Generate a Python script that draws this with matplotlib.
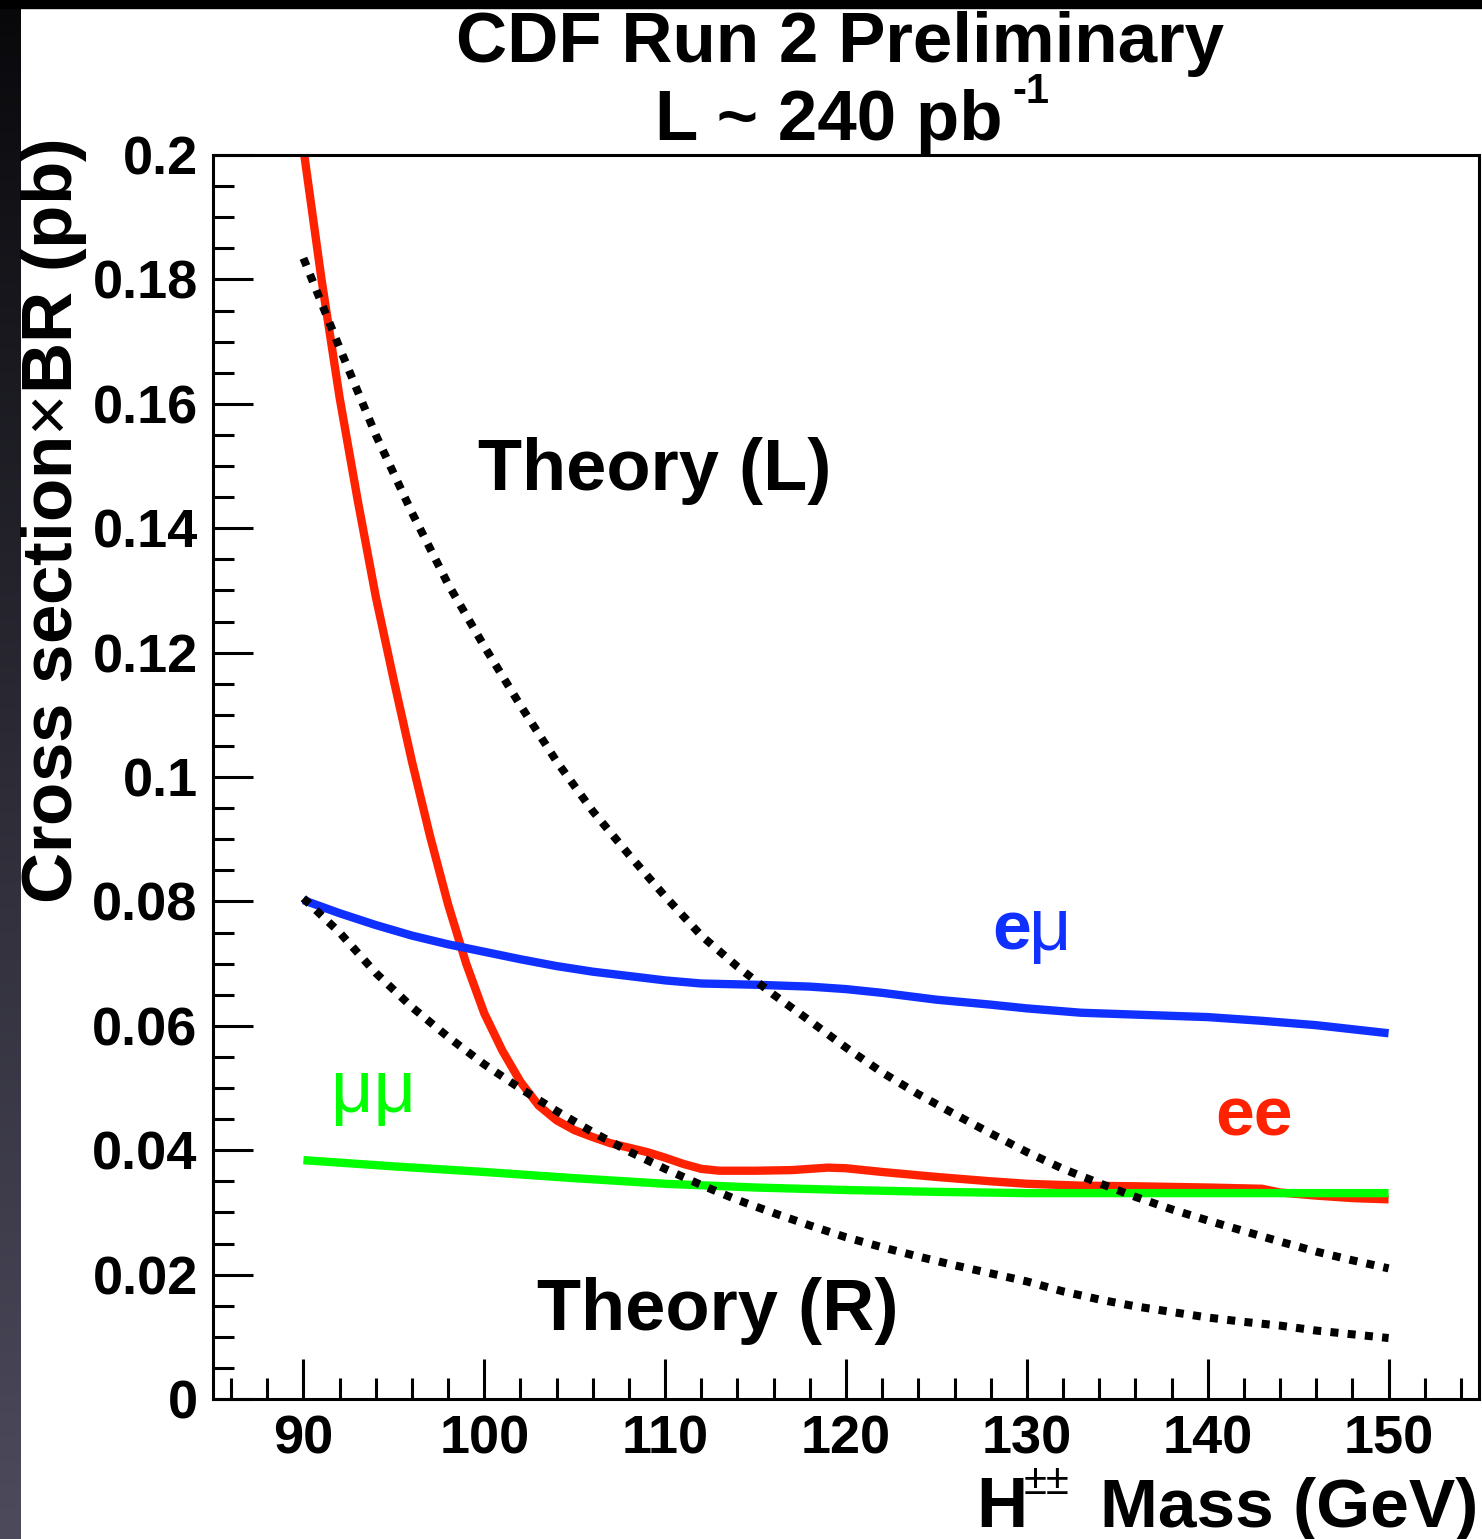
"""
CDF Run 2 doubly-charged Higgs limits: cross section x BR vs H++ mass.
"""

import numpy as np
import matplotlib
matplotlib.use('Agg')  # Headless mode
import matplotlib.pyplot as plt
from matplotlib.ticker import MultipleLocator, FuncFormatter
from matplotlib.patches import Rectangle

# Data
ee_mass = [90, 91, 92, 93, 94, 95, 96, 97, 98, 99, 100, 101, 102, 103, 104,
           105, 106, 107, 108, 109, 110, 111, 112, 113, 115, 117, 119, 120,
           122, 125, 128, 130, 133, 136, 140, 143, 144, 146, 148, 150]
ee_limit = [0.201, 0.180, 0.161, 0.1445, 0.129, 0.1155, 0.1025, 0.0905,
            0.0795, 0.0700, 0.0620, 0.0560, 0.0510, 0.0472, 0.0448, 0.0432,
            0.0421, 0.0411, 0.0404, 0.0397, 0.0388, 0.0378, 0.0370, 0.0367,
            0.0367, 0.0368, 0.0372, 0.0371, 0.0365, 0.0357, 0.0350, 0.0346,
            0.0343, 0.0342, 0.0340, 0.0338, 0.0332, 0.0327, 0.0323, 0.0321]

emu_mass = [90, 92, 94, 96, 98, 100, 102, 104, 106, 108, 110, 112, 115, 118,
            120, 122, 125, 128, 130, 133, 136, 140, 143, 146, 150]
emu_limit = [0.0802, 0.0781, 0.0762, 0.0745, 0.0731, 0.0719, 0.0707, 0.0696,
             0.0687, 0.0680, 0.0673, 0.0668, 0.0666, 0.0663, 0.0659, 0.0653,
             0.0642, 0.0634, 0.0628, 0.0621, 0.0618, 0.0614, 0.0608, 0.0601,
             0.0588]

mumu_mass = [90, 95, 100, 105, 110, 115, 120, 125, 130, 140, 150]
mumu_limit = [0.0384, 0.0374, 0.0365, 0.0355, 0.0346, 0.0340, 0.0336, 0.0333,
              0.0331, 0.0331, 0.0331]

theory_mass = [90, 92, 94, 96, 98, 100, 102, 104, 106, 108, 110, 112, 114,
               116, 118, 120, 122, 124, 126, 128, 130, 132, 134, 136, 138,
               140, 142, 144, 146, 148, 150]
theory_L = [0.1834, 0.169, 0.155, 0.1425, 0.131, 0.121, 0.1115, 0.1025,
            0.0945, 0.0875, 0.0808, 0.0745, 0.0695, 0.065, 0.0608, 0.0565,
            0.0525, 0.049, 0.0458, 0.0427, 0.0397, 0.037, 0.0347, 0.0325,
            0.0305, 0.0287, 0.027, 0.0253, 0.0237, 0.0223, 0.0210]
theory_R = [0.0805, 0.0750, 0.0685, 0.0630, 0.0582, 0.0538, 0.0499, 0.0463,
            0.0429, 0.0398, 0.0370, 0.0344, 0.0320, 0.0299, 0.0279, 0.0260,
            0.0244, 0.0229, 0.0215, 0.0202, 0.0189, 0.0173, 0.0160, 0.0149,
            0.0140, 0.0131, 0.0124, 0.0118, 0.0110, 0.0104, 0.0098]

RED = '#ff2200'
BLUE = '#1030ff'
GREEN = '#00ff00'

plt.rcParams['font.family'] = ['Liberation Sans', 'DejaVu Sans']
plt.rcParams['mathtext.fontset'] = 'custom'
plt.rcParams['mathtext.rm'] = 'Liberation Sans'
plt.rcParams['mathtext.bf'] = 'Liberation Sans:bold'

W, H = 1482, 1539
fig = plt.figure(figsize=(W / 100, H / 100), dpi=100)


def fx(px):
    return px / W


def fy(py):
    return 1 - py / H


# Dark slide border on the left + top band
strip = fig.add_axes([0, 0, fx(21), 1])
grad = np.linspace(0, 1, 256)[:, None]
top_col = np.array([0.03, 0.03, 0.04])
bot_col = np.array([0.30, 0.29, 0.36])
img = top_col + (bot_col - top_col) * grad[..., None] ** 0.9
strip.imshow(img, aspect='auto', extent=[0, 1, 0, 1], origin='upper')
strip.axis('off')
fig.patches.append(Rectangle((0, fy(8)), 1, 8 / H, transform=fig.transFigure,
                             color='black', zorder=5))

ax = fig.add_axes([fx(213), fy(1399), fx(1479) - fx(213), fy(155) - fy(1399)])

lw = 6
ax.plot(ee_mass, ee_limit, color=RED, lw=lw, solid_capstyle='butt',
        solid_joinstyle='round', zorder=2)
ax.plot(emu_mass, emu_limit, color=BLUE, lw=lw, solid_capstyle='butt', zorder=3)
ax.plot(mumu_mass, mumu_limit, color=GREEN, lw=lw, solid_capstyle='butt', zorder=4)
for th in (theory_L, theory_R):
    ax.plot(theory_mass, th, color='black', lw=5.8, linestyle=(0, (1, 1.15)),
            zorder=5)

ax.set_xlim(85, 155)
ax.set_ylim(0, 0.2)

# ROOT-like axes: ticks inside, only on bottom/left
for s in ax.spines.values():
    s.set_linewidth(2.2)
ax.xaxis.set_major_locator(MultipleLocator(10))
ax.xaxis.set_minor_locator(MultipleLocator(2))
ax.yaxis.set_major_locator(MultipleLocator(0.02))
ax.yaxis.set_minor_locator(MultipleLocator(0.005))
ax.yaxis.set_major_formatter(FuncFormatter(lambda v, p: f'{v:g}'))
ax.tick_params(which='both', direction='in', top=False, right=False, width=2.2)
ax.tick_params(which='major', length=29)
ax.tick_params(which='minor', length=15)
ax.tick_params(axis='x', which='major', pad=11, labelsize=39)
ax.tick_params(axis='y', which='major', pad=11, labelsize=39)
for lab in ax.get_xticklabels() + ax.get_yticklabels():
    lab.set_fontweight('bold')

# In-plot labels
ax.text(99.65, 0.1461, 'Theory (L)', fontsize=52, fontweight='bold',
        va='baseline')
ax.text(102.9, 0.0111, 'Theory (R)', fontsize=52, fontweight='bold',
        va='baseline')
ax.text(128.1, 0.0722, 'e', fontsize=50, fontweight='bold', color=BLUE,
        va='baseline')
ax.text(130.1, 0.0722, 'μ', fontsize=53, color=BLUE, va='baseline')
ax.text(140.4, 0.0423, 'ee', fontsize=50, fontweight='bold', color=RED,
        va='baseline')
ax.text(91.5, 0.0461, 'μμ', fontsize=53, color=GREEN, va='baseline')

# Title
fig.text(fx(840), fy(62), 'CDF Run 2 Preliminary', fontsize=51,
         fontweight='bold', ha='center', va='baseline')
fig.text(fx(655), fy(140), 'L ~ 240 pb', fontsize=51, fontweight='bold',
         ha='left', va='baseline')
fig.text(fx(1012), fy(103), '-1', fontsize=30, fontweight='bold',
         ha='left', va='baseline')

# Axis titles
fig.text(fx(72), fy(522), r'Cross section$\times$BR (pb)', fontsize=51,
         fontweight='bold', rotation=90, rotation_mode='anchor',
         ha='center', va='baseline')
fig.text(fx(976), fy(1527), 'H', fontsize=51, fontweight='bold',
         ha='left', va='baseline')
fig.text(fx(1024), fy(1494), '±±', fontsize=30, ha='left', va='baseline')
fig.text(fx(1478), fy(1527), 'Mass (GeV)', fontsize=50, fontweight='bold',
         ha='right', va='baseline')

fig.savefig('out.png', dpi=100, facecolor='white')
plt.close(fig)
